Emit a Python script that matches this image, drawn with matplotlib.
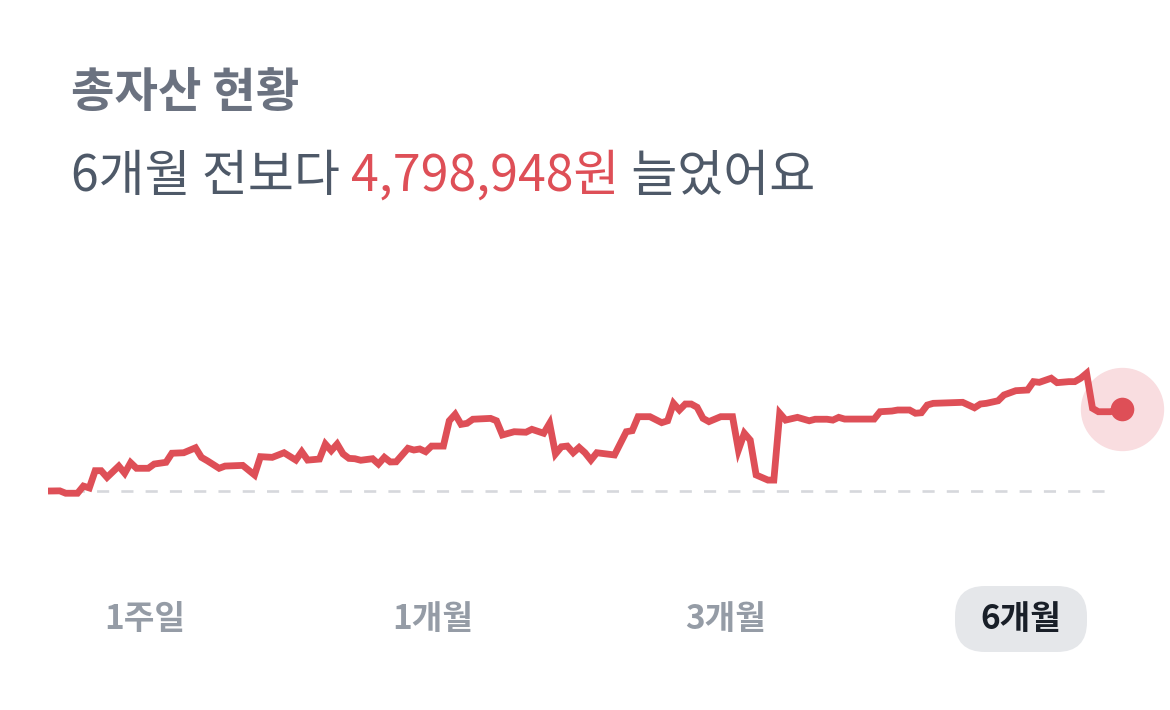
import matplotlib
matplotlib.use('Agg')
import matplotlib.pyplot as plt
from matplotlib.patches import FancyBboxPatch

plt.rcParams['font.family'] = ['Noto Sans CJK KR', 'DejaVu Sans']

# change in total assets vs. 6 months ago (만원), by day offset
days = [0, 2, 3, 5, 6, 7, 8, 9, 10, 12, 13, 14, 15, 17, 18, 20, 21, 23, 25, 26,
        27, 29, 30, 33, 35, 36, 38, 40, 42, 43, 44, 46, 47, 48, 49, 50, 51, 52, 53, 55,
        56, 57, 58, 59, 61, 62, 63, 64, 65, 67, 68, 69, 70, 71, 72, 75, 76, 77, 79, 81,
        82, 84, 85, 86, 87, 88, 89, 90, 91, 92, 93, 96, 97, 98, 99, 100, 102, 104, 105, 106,
        107, 108, 109, 110, 111, 112, 114, 116, 117, 118, 119, 120, 122, 123, 124, 125, 127, 129, 130, 132,
        133, 134, 135, 140, 141, 143, 144, 146, 147, 148, 149, 150, 155, 156, 157, 158, 159, 161, 162, 164,
        166, 167, 168, 170, 171, 173, 174, 175, 176, 177, 178, 180, 182]
change = [0, 1, -13, -13, 29, 18, 119, 119, 80, 146, 104, 166, 133, 133, 158, 168, 221, 224, 253, 197,
          177, 133, 146, 150, 94, 201, 197, 224, 181, 230, 181, 187, 275, 236, 275, 217, 191, 189, 180, 189,
          158, 197, 170, 171, 250, 240, 246, 230, 263, 263, 411, 449, 390, 396, 420, 425, 411, 328, 347, 344,
          361, 338, 396, 217, 259, 263, 224, 255, 224, 181, 224, 211, 279, 347, 353, 435, 435, 400, 411, 513,
          474, 509, 509, 490, 425, 406, 435, 435, 240, 338, 298, 94, 64, 64, 455, 415, 431, 411, 420, 420,
          415, 431, 421, 421, 464, 468, 474, 474, 455, 458, 503, 513, 519, 503, 487, 509, 513, 528, 562, 587,
          591, 640, 636, 660, 634, 640, 640, 660, 689, 484, 464, 464, 480]

title = '총자산 현황'
sub_pre = '6개월 전보다 '
sub_amount = '4,798,948원'
sub_post = ' 늘었어요'
periods = ['1주일', '1개월', '3개월', '6개월']
period_x = [145, 433, 726, 1021]
selected = '6개월'

red = '#de4f57'

fig = plt.figure(figsize=(11.7, 7.1), dpi=100)
fig.patch.set_facecolor('white')

# background axes in pixel coordinates for text and buttons
bg = fig.add_axes([0, 0, 1, 1])
bg.set_xlim(0, 1170)
bg.set_ylim(710, 0)
bg.axis('off')

bg.text(71, 107, title, fontsize=34, fontweight='bold', color='#6b7280', va='baseline')
t1 = bg.text(71, 191, sub_pre, fontsize=36, color='#4e5968', va='baseline')
t2 = bg.annotate(sub_amount, xy=(1, 0), xycoords=t1, fontsize=36, color=red, va='bottom')
bg.annotate(sub_post, xy=(1, 0), xycoords=t2, fontsize=36, color='#4e5968', va='bottom')

for name, px in zip(periods, period_x):
    if name == selected:
        bg.add_patch(FancyBboxPatch((px - 66 + 30, 586 + 30), 132 - 60, 66 - 60,
                                    boxstyle='round,pad=30', fc='#e5e7ea', ec='none'))
        bg.text(px, 619, name, fontsize=24, fontweight='bold', color='#191f28',
                ha='center', va='center')
    else:
        bg.text(px, 619, name, fontsize=24, fontweight='bold', color='#959ca6',
                ha='center', va='center')

# chart axes: x 48..1122 px, baseline (0) at y=491 px
ax = fig.add_axes([48 / 1170, 1 - 510 / 710, 1074 / 1170, 150 / 710])
ax.set_xlim(0, 182)
ax.set_ylim(-111, 766.6)
ax.axis('off')

ax.plot([0, 180.8], [0, 0], color='#d6d8dc', lw=1.9, dashes=(4.6, 4.6))
ax.plot(days, change, color=red, lw=4.9, solid_joinstyle='miter', solid_capstyle='butt')
ax.plot(days[-1], change[-1], 'o', ms=60, color='#f9dde0', mec='none', clip_on=False, zorder=1)
ax.plot(days[-1], change[-1], 'o', ms=17, color=red, mec='none', clip_on=False, zorder=4)

fig.savefig('out.png', dpi=100, facecolor='white')
